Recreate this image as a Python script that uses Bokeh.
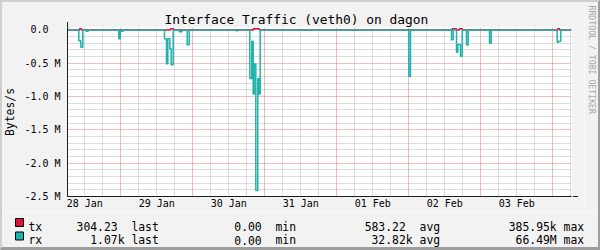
import math
from bokeh.plotting import figure
from bokeh.layouts import column, row
from bokeh.models import (Range1d, FixedTicker, Grid, Label, Arrow, NormalHead,
                          BoxAnnotation, InlineStyleSheet)
from bokeh.embed import file_html
from bokeh.resources import INLINE

# ---- data (time = hours since 28 Jan 00:00, values in bytes/s) ----
rx_t = [6.25, 10.02, 10.68, 11.35, 12.48, 13.15, 23.35, 23.82, 24.25, 24.82,
        38.58, 39.25, 39.68, 40.35, 40.82, 41.48, 43.48, 44.48, 46.15, 46.82,
        62.25, 63.02, 67.02, 67.68, 68.15, 68.48, 69.02, 69.68, 70.02, 70.48,
        120.02, 120.58, 134.25, 134.82, 135.92, 136.35, 137.25, 137.82,
        139.25, 139.82, 146.92, 147.48, 169.48, 170.02, 170.68, 174.25]
rx_v = [0, 160000, 258000, 0, 18000, 0, 132000, 0, 18000, 0,
        132000, 507000, 132000, 283000, 523000, 0, 28000, 0, 222000, 0,
        10000, 0, 730000, 170000, 960000, 510000, 2410000, 730000, 960000, 0,
        698000, 0, 147000, 0, 333000, 218000, 393000, 0,
        225000, 0, 200000, 0, 185000, 170000, 0, 0]

tx_t = [6.25, 10.25, 10.9, 40.6, 41.6, 68.25, 70.25, 134.5, 135.9,
        136.9, 137.9, 169.6, 170.25, 174.25]
tx_v = [0, 20000, 0, 20000, 0, 20000, 0, 20000, 0,
        20000, 0, 20000, 0, 0]

x_tick_hours = [12, 36, 60, 84, 108, 132, 156]
x_tick_labels = ["28 Jan", "29 Jan", "30 Jan", "31 Jan", "01 Feb", "02 Feb", "03 Feb"]
x_major_grid = [24, 48, 72, 96, 120, 144, 168]
x_minor_grid = [12, 18, 30, 36, 42, 54, 60, 66, 78, 84, 90, 102, 108, 114,
                126, 132, 138, 150, 156, 162, 174]

y_ticks = [0, -500000, -1000000, -1500000, -2000000, -2500000]
y_tick_labels = ["0.0\u00a0\u00a0", "-0.5 M", "-1.0 M", "-1.5 M", "-2.0 M", "-2.5 M"]
y_minor_grid = [-100000, -200000, -300000, -400000, -600000, -700000, -800000,
                -900000, -1100000, -1200000, -1300000, -1400000, -1600000,
                -1700000, -1800000, -1900000, -2100000, -2200000, -2300000,
                -2400000]

legend_names = ["tx", "rx"]
legend_last = ["304.23", "1.07k"]
legend_min = ["0.00", "0.00"]
legend_avg = ["583.22", "32.82k"]
legend_max = ["385.95k", "66.49M"]
series_colors = ["#DC143C", "#20B2AA"]

# ---- layout ----
W, H = 600, 250
MAIN_W, MAIN_H = 584, 212
FL, FR, FT, FB = 67, 571, 27, 196
X0, X1 = 6.25, 174.25
Y0, Y1 = -2500000, 37500

MONO = "DejaVu Sans Mono"
BG = "#f2f2f2"


def xpx(px):
    return X0 + (px - FL) * (X1 - X0) / (FR - FL)


def ypx(py):
    return Y1 - (py - FT) * (Y1 - Y0) / (FB - FT)


def no_frame_align(fig):
    if "frame_align" in fig.properties():
        fig.frame_align = False


p = figure(width=MAIN_W, height=MAIN_H, x_range=Range1d(X0, X1), y_range=Range1d(Y0, Y1),
           output_backend="svg", toolbar_location=None,
           min_border_left=FL, min_border_right=MAIN_W - FR,
           min_border_top=FT, min_border_bottom=MAIN_H - FB)
no_frame_align(p)
p.background_fill_color = "white"
p.border_fill_color = BG
p.outline_line_color = None

p.title.text = "Interface Traffic (veth0) on dagon"
p.title.align = "left"
p.title.offset = 97
p.title.standoff = 1
p.title.text_font = MONO
p.title.text_font_size = "12.9px"
p.title.text_font_style = "normal"
p.title.text_color = "black"

p.xgrid.visible = False
p.ygrid.visible = False
minor_style = dict(grid_line_color="#8c8c8c", grid_line_alpha=0.6, grid_line_dash="1 1")
major_style = dict(grid_line_color="#de4f4f", grid_line_alpha=0.75, grid_line_dash="1 1")
p.add_layout(Grid(dimension=0, ticker=FixedTicker(ticks=x_minor_grid), **minor_style))
p.add_layout(Grid(dimension=1, ticker=FixedTicker(ticks=y_minor_grid), **minor_style))
p.add_layout(Grid(dimension=0, ticker=FixedTicker(ticks=x_major_grid), **major_style))
p.add_layout(Grid(dimension=1, ticker=FixedTicker(ticks=y_ticks), **major_style))

for ax in (p.xaxis[0], p.yaxis[0]):
    ax.axis_line_color = "#1f1f1f"
    ax.major_tick_line_color = None
    ax.minor_tick_line_color = None
    ax.major_tick_out = 0
    ax.major_tick_in = 0
    ax.minor_tick_out = 0
    ax.major_label_text_font = MONO
    ax.major_label_text_font_size = "10px"
    ax.major_label_text_color = "black"

p.xaxis.ticker = FixedTicker(ticks=x_tick_hours)
p.xaxis.major_label_overrides = dict(zip(x_tick_hours, x_tick_labels))
p.xaxis.major_label_standoff = 1
p.yaxis.ticker = FixedTicker(ticks=y_ticks)
p.yaxis.major_label_overrides = dict(zip(y_ticks, y_tick_labels))
p.yaxis.major_label_standoff = 7
p.yaxis.axis_label = "Bytes/s"
p.yaxis.axis_label_text_font = MONO
p.yaxis.axis_label_text_font_size = "11.4px"
p.yaxis.axis_label_text_font_style = "normal"
p.yaxis.axis_label_text_color = "black"
p.yaxis.axis_label_standoff = 4

# ---- data lines ----
p.step(tx_t, tx_v, mode="after", line_color=series_colors[0], line_width=1.5)
p.step(rx_t, [-v for v in rx_v], mode="after", line_color=series_colors[1], line_width=1.5)

# ---- axis arrows ----
p.add_layout(Arrow(end=NormalHead(size=5, fill_color="#7f1f1f", line_color="#7f1f1f"),
                   x_start=X0, y_start=ypx(199), x_end=X0, y_end=ypx(21.5),
                   line_color="#1f1f1f", line_width=1))
p.add_layout(Arrow(end=NormalHead(size=5, fill_color="#7f1f1f", line_color="#7f1f1f"),
                   x_start=xpx(64), y_start=Y0, x_end=xpx(577.5), y_end=Y0,
                   line_color="#1f1f1f", line_width=1))

# ---- watermark strip (narrow figure on the right, pixel coordinates) ----
WM_W = W - MAIN_W
wm = figure(width=WM_W, height=MAIN_H, x_range=Range1d(0, WM_W), y_range=Range1d(MAIN_H, 0),
            output_backend="svg", toolbar_location=None, min_border=0,
            x_axis_type=None, y_axis_type=None)
no_frame_align(wm)
wm.background_fill_color = BG
wm.border_fill_color = BG
wm.outline_line_color = None
wm.grid.visible = False
wm.add_layout(Label(x=591 - MAIN_W, y=5, text="RRDTOOL / TOBI OETIKER", angle=-math.pi / 2,
                    text_align="left", text_baseline="middle", text_font=MONO,
                    text_font_size="8.2px", text_color="#a8a8a8"))

# ---- legend panel (second figure, pixel coordinates) ----
LEG_H = H - MAIN_H
q = figure(width=W, height=LEG_H, x_range=Range1d(0, W), y_range=Range1d(LEG_H, 0),
           output_backend="svg", toolbar_location=None, min_border=0,
           x_axis_type=None, y_axis_type=None)
no_frame_align(q)
q.background_fill_color = BG
q.border_fill_color = BG
q.outline_line_color = None
q.grid.visible = False

CW = 6.86
LX0 = 28
baselines = [226 - MAIN_H, 239.5 - MAIN_H]


def field_col(s, start):
    num = s[:-1] if s[-1].isalpha() else s
    return start + 6 - len(num)


for i in range(2):
    by = baselines[i]
    q.add_layout(BoxAnnotation(left=15, right=23, top=by - 8, bottom=by,
                               fill_color=series_colors[i], fill_alpha=1,
                               line_color="black", line_width=1, line_alpha=1))
    pieces = [
        (legend_names[i], 0),
        (legend_last[i], field_col(legend_last[i], 7)), ("last", 15),
        (legend_min[i], field_col(legend_min[i], 28)), ("min", 36),
        (legend_avg[i], field_col(legend_avg[i], 49)), ("avg", 57),
        (legend_max[i], field_col(legend_max[i], 70)), ("max", 78),
    ]
    for txt, col in pieces:
        q.add_layout(Label(x=LX0 + col * CW, y=by, text=txt,
                           text_align="left", text_baseline="alphabetic",
                           text_font=MONO, text_font_size="11.4px", text_color="black"))

frame_css = InlineStyleSheet(css="""
:host { position: relative; }
:host::after {
  content: ""; position: absolute; left: 0; top: 0; width: 600px; height: 250px;
  box-sizing: border-box; border-style: solid; border-width: 2px 2px 3px 2px;
  border-color: #cfcfcf #9e9e9e #9e9e9e #cfcfcf; pointer-events: none; z-index: 10;
}
""")

layout = column(row(p, wm, spacing=0), q, spacing=0, stylesheets=[frame_css])

open("out.html", "w").write(file_html(layout, INLINE))
